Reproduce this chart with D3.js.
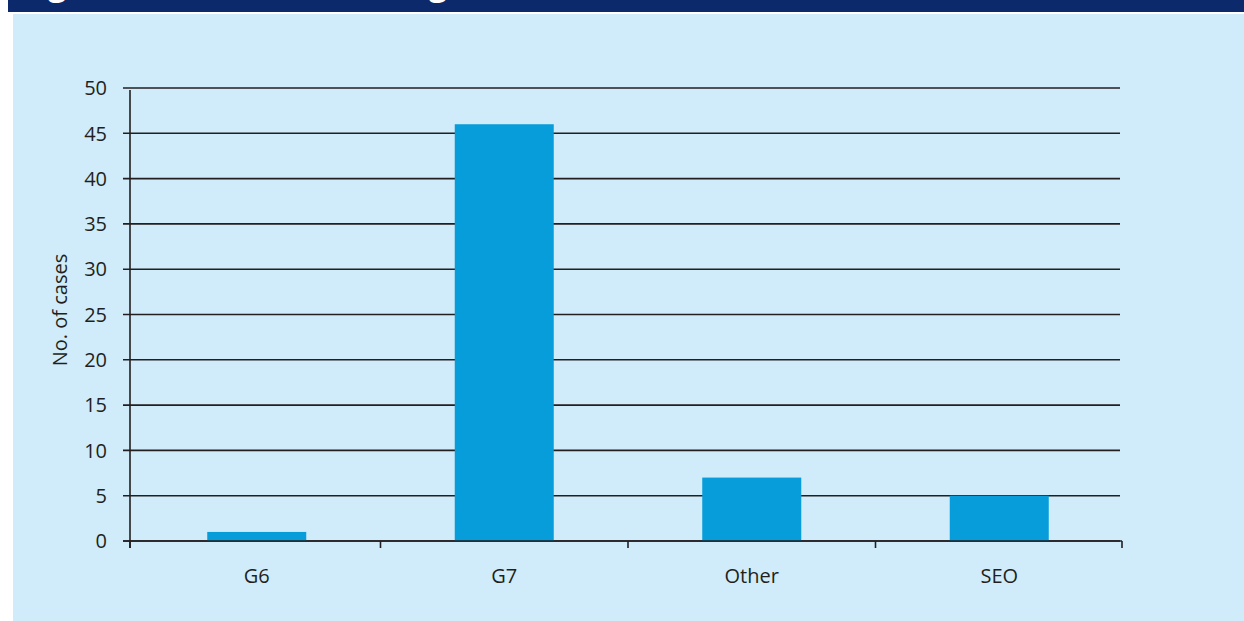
<!DOCTYPE html>
<html><head><meta charset="utf-8">
<script src="https://cdn.jsdelivr.net/npm/d3@7"></script>
<style>body{margin:0;background:#fff;}svg{display:block;}</style>
</head><body><svg id="c" width="1244" height="621"></svg>
<script>
const categories = ["G6", "G7", "Other", "SEO"];
const values = [1, 46, 7, 5];
const yTicks = [0, 5, 10, 15, 20, 25, 30, 35, 40, 45, 50];
const titleText = "Figure 2: Cases in each region";
const yLabel = "No. of cases";

const svg = d3.select("#c");
const font = "'Open Sans', 'Noto Sans', sans-serif";
const ink = "#231f20";

svg.append("rect").attr("x", 8).attr("y", 0).attr("width", 1236).attr("height", 12).attr("fill", "#0c2a6b");
// title: only its descenders peek into the band, as in the reference
const title = svg.append("text").attr("x", 20).attr("y", -3).attr("fill", "#fff")
  .attr("font-family", font).attr("font-weight", "bold").attr("font-size", 28).text(titleText);
{
  const node = title.node();
  const i1 = titleText.indexOf("g"), i2 = titleText.lastIndexOf("g");
  const d = node.getStartPositionOfChar(i2).x - node.getStartPositionOfChar(i1).x;
  const s = 28 * 381 / d;
  title.attr("font-size", s);
  const p1 = node.getStartPositionOfChar(i1).x;
  title.attr("x", 20 + (48 - p1)).attr("y", 3 - 0.24 * s);
}
svg.append("rect").attr("x", 0).attr("y", 12).attr("width", 1244).attr("height", 2).attr("fill", "#fff");
svg.append("rect").attr("x", 13).attr("y", 14).attr("width", 1231).attr("height", 607).attr("fill", "#d0ecfa");

const x = d3.scaleBand().domain(categories).range([133, 1123]).paddingInner(0.6).paddingOuter(0.3);
const y = d3.scaleLinear().domain([0, 50]).range([541, 88]);

// gridlines
svg.append("g").selectAll("line").data(yTicks).join("line")
  .attr("x1", 123).attr("x2", 1120).attr("y1", d => y(d)).attr("y2", d => y(d))
  .attr("stroke", ink).attr("stroke-width", 1.6);

// y labels
svg.append("g").selectAll("text").data(yTicks).join("text")
  .attr("x", 107).attr("y", d => y(d)).attr("dy", "0.36em").attr("text-anchor", "end")
  .attr("font-family", font).attr("font-size", 20).attr("fill", ink).text(d => d);

// bars
svg.append("g").selectAll("rect").data(categories).join("rect")
  .attr("x", d => x(d)).attr("width", x.bandwidth())
  .attr("y", (d, i) => y(values[i])).attr("height", (d, i) => y(0) - y(values[i]))
  .attr("fill", "#069dda");

// y axis line
svg.append("line").attr("x1", 130).attr("x2", 130).attr("y1", 90).attr("y2", 548)
  .attr("stroke", ink).attr("stroke-width", 1.6);
// x axis line
svg.append("line").attr("x1", 123).attr("x2", 1122).attr("y1", y(0)).attr("y2", y(0))
  .attr("stroke", ink).attr("stroke-width", 1.6);

// x ticks at band boundaries
const step = x.step();
const bounds = [130].concat(categories.map(c => x(c) + x.bandwidth() / 2 + step / 2));
bounds[bounds.length - 1] = 1122;
svg.append("g").selectAll("line").data(bounds).join("line")
  .attr("x1", d => d).attr("x2", d => d).attr("y1", y(0)).attr("y2", y(0) + 7)
  .attr("stroke", ink).attr("stroke-width", 1.6);

// x labels
svg.append("g").selectAll("text").data(categories).join("text")
  .attr("x", d => x(d) + x.bandwidth() / 2).attr("y", 583).attr("text-anchor", "middle")
  .attr("font-family", font).attr("font-size", 20).attr("fill", ink).text(d => d);

svg.append("text").attr("transform", "translate(67,310) rotate(-90)").attr("text-anchor", "middle")
  .attr("font-family", font).attr("font-size", 20).attr("fill", ink).text(yLabel);
</script></body></html>
